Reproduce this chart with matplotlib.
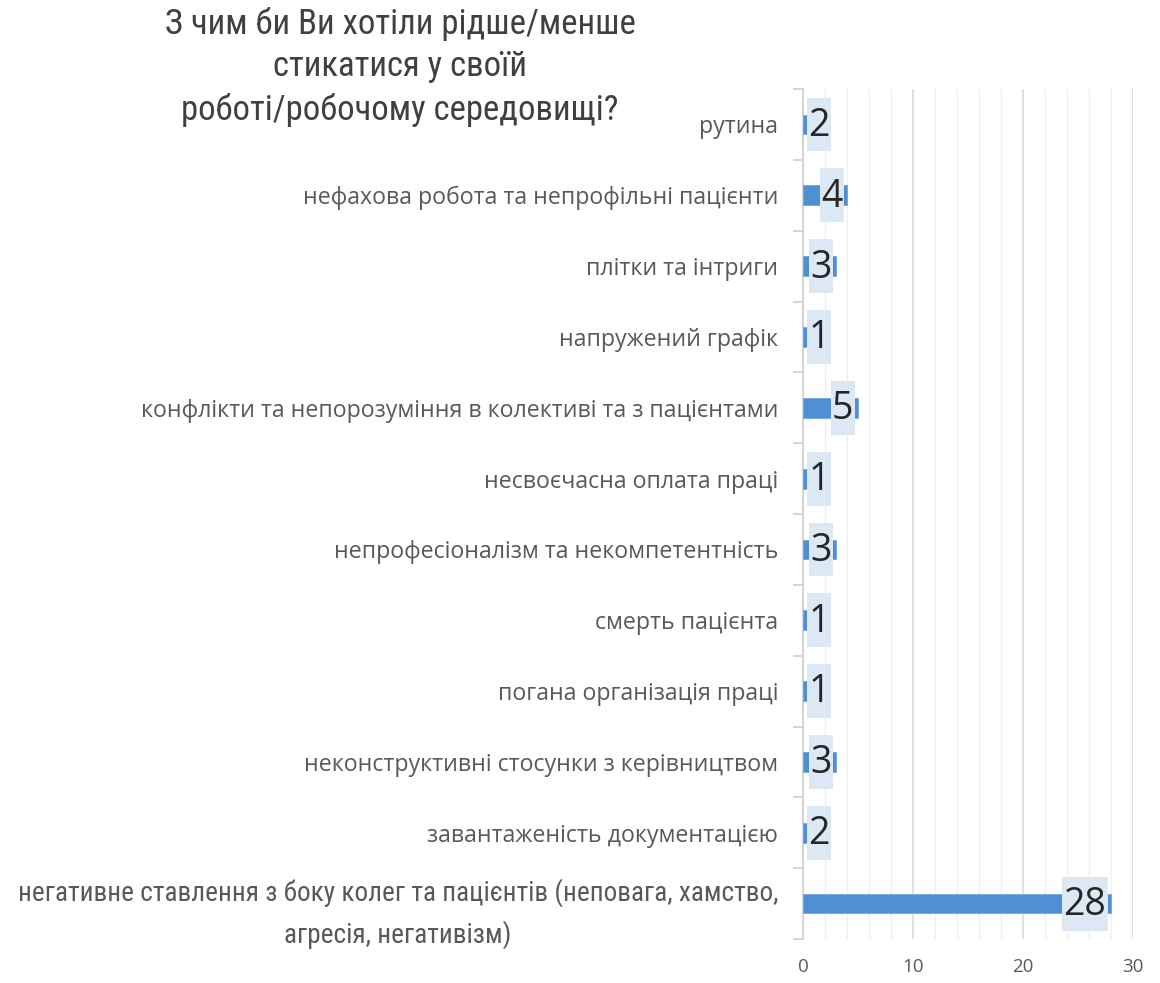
import matplotlib
matplotlib.use("Agg")
import matplotlib.pyplot as plt
from matplotlib.patches import Rectangle
from matplotlib.ticker import MultipleLocator
from matplotlib import font_manager as fm

categories = [
    "рутина",
    "нефахова робота та непрофільні пацієнти",
    "плітки та інтриги",
    "напружений графік",
    "конфлікти та непорозуміння в колективі та з пацієнтами",
    "несвоєчасна оплата праці",
    "непрофесіоналізм та некомпетентність",
    "смерть пацієнта",
    "погана організація праці",
    "неконструктивні стосунки з керівництвом",
    "завантаженість документацією",
    "негативне ставлення з боку колег та пацієнтів (неповага, хамство,\nагресія, негативізм)",
]
values = [2, 4, 3, 1, 5, 1, 3, 1, 1, 3, 2, 28]
x_ticks = [0, 10, 20, 30]
title = "З чим би Ви хотіли рідше/менше\nстикатися у своїй\nроботі/робочому середовищі?"

names = {f.name for f in fm.fontManager.ttflist}
cond_stretch = {(f.name, f.stretch) for f in fm.fontManager.ttflist}
narrow = None
narrow_stretch = "normal"
for cand in ["Liberation Sans Narrow", "Roboto Condensed", "Open Sans Condensed", "DejaVu Sans Condensed"]:
    if cand in names:
        narrow = cand
        break
if narrow is None:
    for (n, s) in cond_stretch:
        if n == "DejaVu Sans" and s in ("condensed", 600, "semi-condensed"):
            narrow = "DejaVu Sans"
            narrow_stretch = "condensed"
            break

BAR = "#4f8fd4"
BOX = "#dde8f5"
GRAY = "#595959"

fig = plt.figure(figsize=(11.6, 9.83), dpi=100)
ax = fig.add_axes([803/1160, 1 - 939/983, 330/1160, (939 - 89)/983])

ypos = list(range(len(categories)))
ax.barh(ypos, values, height=0.28, color=BAR, edgecolor="#6fa6dd", linewidth=0.6, zorder=3)

ax.set_xlim(0, 30)
ax.set_ylim(len(categories) - 0.5, -0.5)

for y, v in zip(ypos, values):
    s = str(v)
    w = 0.2 + 2.0 * len(s)
    right = max(v - 0.3, 0.35 + w)
    left = right - w
    ax.add_patch(Rectangle((left, y - 0.38), w, 0.76, facecolor=BOX, edgecolor="none", zorder=4))
    ax.text(left + w / 2, y + 0.02, s, ha="center", va="center", fontsize=27,
            family="Open Sans", color="#262626", zorder=5)

for sp in ["top", "right", "bottom"]:
    ax.spines[sp].set_visible(False)
ax.spines["left"].set_color("#d0d0d0")
ax.spines["left"].set_linewidth(1.2)

ax.set_xticks(x_ticks)
ax.set_xticklabels([str(t) for t in x_ticks], fontsize=13.5, color=GRAY, family="Open Sans")
ax.xaxis.set_minor_locator(MultipleLocator(2))
ax.tick_params(axis="x", which="both", length=0, pad=14)
ax.grid(axis="x", which="major", color="#d9d9d9", linewidth=1.2, zorder=0)
ax.grid(axis="x", which="minor", color="#efefef", linewidth=1.0, zorder=0)

ax.set_yticks(ypos)
labels = ax.set_yticklabels(categories, fontsize=16.7, color=GRAY, family="Open Sans")
if narrow is not None:
    labels[-1].set_family(narrow)
    labels[-1].set_stretch(narrow_stretch)
    labels[-1].set_fontsize(19.6)
else:
    labels[-1].set_fontsize(14)
labels[-1].set_multialignment("center")
labels[-1].set_linespacing(1.6)
ax.tick_params(axis="y", which="major", length=0, pad=18)
ax.set_yticks([i - 0.5 for i in range(len(categories) + 1)], minor=True)
ax.tick_params(axis="y", which="minor", length=7, color="#d0d0d0", width=1.2)

tfam = narrow if narrow is not None else "Open Sans"
fig.text(400/1160, 1 - 67/983, title, ha="center", va="center",
         fontsize=25 if narrow else 20, family=tfam,
         stretch=narrow_stretch if narrow else "normal",
         color="#404040", linespacing=1.35)

fig.savefig("out.png", dpi=100, facecolor="white")
